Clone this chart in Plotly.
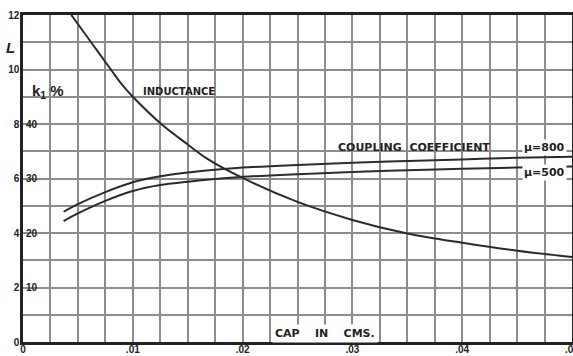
import plotly.graph_objects as go

# ---- data ----
ind_x = [0.0044, 0.0062, 0.0080, 0.0090, 0.0100, 0.0127, 0.0150, 0.0168, 0.0200,
         0.0250, 0.0300, 0.0350, 0.0400, 0.0450, 0.0500]
ind_L = [12.0, 11.0, 10.0, 9.45, 9.0, 7.96, 7.25, 6.72, 6.02,
         5.14, 4.48, 3.98, 3.64, 3.35, 3.12]

cc_x = [0.0037, 0.0050, 0.0075, 0.0100, 0.0125, 0.0150, 0.0175, 0.0200,
        0.0250, 0.0300, 0.0350, 0.0400, 0.0450, 0.0500]
k_800 = [23.9, 25.3, 27.5, 29.3, 30.4, 31.1, 31.6, 32.0, 32.5, 32.9, 33.2, 33.5, 33.8, 34.0]
k_500 = [22.2, 23.6, 25.9, 27.7, 28.8, 29.4, 29.9, 30.3, 30.8, 31.2, 31.5, 31.8, 32.0, 32.2]

x_ticks = [0, 0.01, 0.02, 0.03, 0.04, 0.05]
x_labels = ["0", ".01", ".02", ".03", ".04", ".05"]
y_ticks = [0, 2, 4, 6, 8, 10, 12]
y_labels = ["0", "2", "4", "6", "8", "10", "12"]
k_ticks = [10, 20, 30, 40]
k_labels = ["10", "20", "30", "40"]

FONT = "Liberation Sans"
LFONT = "DejaVu Sans"
LINE = "#2b2b2b"
GRID = "#8c8c8c"

fig = go.Figure()
fig.add_trace(go.Scatter(x=ind_x, y=ind_L, mode="lines", yaxis="y",
                         line=dict(color=LINE, width=2, shape="spline"),
                         showlegend=False, hoverinfo="skip"))
fig.add_trace(go.Scatter(x=cc_x, y=k_800, mode="lines", yaxis="y2",
                         line=dict(color=LINE, width=2, shape="spline"),
                         showlegend=False, hoverinfo="skip"))
fig.add_trace(go.Scatter(x=cc_x, y=k_500, mode="lines", yaxis="y2",
                         line=dict(color=LINE, width=2, shape="spline"),
                         showlegend=False, hoverinfo="skip"))

tick_font = dict(family=FONT, size=10, color="#222", weight="bold")
lab_font = dict(family=LFONT, size=10, color="#222", weight="bold")
lab_font11 = dict(family=LFONT, size=11, color="#222", weight="bold")

fig.update_layout(
    width=573, height=356,
    margin=dict(l=23, r=1, t=15, b=14),
    paper_bgcolor="white", plot_bgcolor="white",
    xaxis=dict(range=[0, 0.05], tickvals=x_ticks, ticktext=x_labels,
               showgrid=True, gridcolor=GRID, gridwidth=1.5, zeroline=False,
               minor=dict(dtick=0.0025, tick0=0, showgrid=True, gridcolor=GRID,
                          gridwidth=1.5, ticks=""),
               showline=True, linecolor="#222", linewidth=2.5, mirror=True,
               ticks="", tickfont=tick_font, ticklabelstandoff=-4,
               ticklabeloverflow="allow", automargin=False, fixedrange=True),
    yaxis=dict(range=[0, 12], tickvals=y_ticks, ticktext=y_labels,
               showgrid=True, gridcolor=GRID, gridwidth=1.5, zeroline=False,
               minor=dict(dtick=1, tick0=0, showgrid=True, gridcolor=GRID,
                          gridwidth=1.5, ticks=""),
               showline=True, linecolor="#222", linewidth=2.5, mirror=True,
               ticks="", tickfont=tick_font, ticklabelstandoff=-1,
               ticklabeloverflow="allow", automargin=False, fixedrange=True),
    yaxis2=dict(range=[0, 60], overlaying="y", side="left",
                tickvals=k_ticks, ticktext=k_labels,
                ticklabelposition="inside", showgrid=False, zeroline=False,
                showline=False, ticks="", tickfont=tick_font,
                ticklabeloverflow="allow", automargin=False, fixedrange=True),
    annotations=[
        dict(text="L", x=-0.022, y=10.8, xref="paper", yref="y", showarrow=False,
             xanchor="center",
             font=dict(family=FONT, size=15, color="#222", style="italic", weight="bold")),
        dict(text="k<sub>1</sub> %", x=0.012, y=9.2, xref="paper", yref="y",
             xanchor="left", showarrow=False,
             font=dict(family=FONT, size=15, color="#222", weight="bold")),
        dict(text="INDUCTANCE", x=0.01425, y=9.2, xref="x", yref="y", showarrow=False,
             font=lab_font),
        dict(text="COUPLING  COEFFICIENT", x=0.0356, y=7.15, xref="x", yref="y",
             showarrow=False, font=lab_font11),
        dict(text="μ=800", x=0.0475, y=7.15, xref="x", yref="y", showarrow=False,
             bgcolor="white", font=lab_font11),
        dict(text="μ=500", x=0.0475, y=6.22, xref="x", yref="y", showarrow=False,
             bgcolor="white", font=lab_font11),
        dict(text="CAP    IN    CMS.", x=0.0275, y=0.33, xref="x", yref="y", showarrow=False,
             bgcolor="white", borderpad=2, font=lab_font11),
    ],
)

fig.write_html("out.html", config={"displayModeBar": False},
               post_script="document.body.style.margin='0';document.body.style.overflow='hidden';")
